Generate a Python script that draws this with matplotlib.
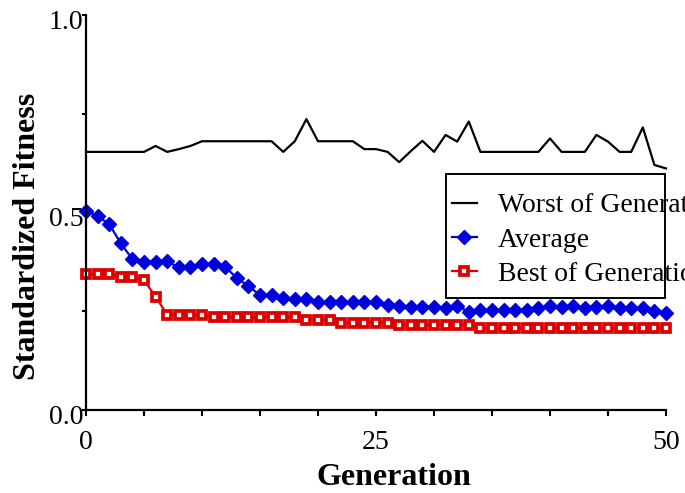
import matplotlib
matplotlib.use("Agg")
import matplotlib.pyplot as plt
from matplotlib.lines import Line2D
from matplotlib.patches import Rectangle
from matplotlib.transforms import ScaledTranslation
import numpy as np

plt.rcParams['font.family'] = ['Liberation Serif', 'DejaVu Serif']

# standardized fitness per generation (0..50)
generations = np.arange(51)
worst = [0.653, 0.653, 0.653, 0.653, 0.653, 0.653, 0.668, 0.653, 0.660, 0.668,
         0.680, 0.680, 0.680, 0.680, 0.680, 0.680, 0.680, 0.653, 0.680, 0.736,
         0.680, 0.680, 0.680, 0.680, 0.660, 0.660, 0.653, 0.627, 0.655, 0.681,
         0.653, 0.696, 0.679, 0.730, 0.653, 0.653, 0.653, 0.653, 0.653, 0.653,
         0.687, 0.653, 0.653, 0.653, 0.696, 0.679, 0.653, 0.653, 0.715, 0.620,
         0.611]
average = [0.504, 0.490, 0.470, 0.421, 0.381, 0.375, 0.375, 0.376, 0.360, 0.360,
           0.370, 0.370, 0.362, 0.333, 0.313, 0.290, 0.290, 0.283, 0.279, 0.279,
           0.272, 0.272, 0.272, 0.272, 0.272, 0.272, 0.265, 0.262, 0.261, 0.261,
           0.261, 0.257, 0.262, 0.248, 0.252, 0.252, 0.252, 0.252, 0.253, 0.257,
           0.262, 0.261, 0.262, 0.257, 0.259, 0.262, 0.257, 0.257, 0.257, 0.250,
           0.245]
best = [0.343, 0.343, 0.343, 0.335, 0.335, 0.328, 0.286, 0.240, 0.240, 0.240,
        0.240, 0.234, 0.234, 0.234, 0.234, 0.234, 0.234, 0.234, 0.234, 0.227,
        0.227, 0.227, 0.220, 0.220, 0.220, 0.220, 0.220, 0.214, 0.214, 0.214,
        0.214, 0.214, 0.214, 0.214, 0.206, 0.206, 0.206, 0.206, 0.206, 0.206,
        0.206, 0.206, 0.206, 0.206, 0.206, 0.206, 0.206, 0.206, 0.206, 0.206,
        0.206]

labels = ['Worst of Generation', 'Average', 'Best of Generation']
blue = '#0000DD'
red = '#DD0000'

fig = plt.figure(figsize=(6.85, 4.93), dpi=100)
ax = fig.add_axes([86 / 685, 1 - 409.5 / 493, 580 / 685, 394.5 / 493])

ax.plot(generations, worst, color='black', lw=1.6, clip_on=False)
ax.plot(generations, average, color=blue, lw=1.6, marker='D', ms=7.5,
        mfc=blue, mec=blue, clip_on=False)
ax.plot(generations, best, color=red, lw=1.6, marker='s', ms=5.2, mew=2.7,
        mfc='white', mec=red, clip_on=False)

ax.set_xlim(0, 50)
ax.set_ylim(0, 1)
for side in ['top', 'right']:
    ax.spines[side].set_visible(False)
for side in ['left', 'bottom']:
    ax.spines[side].set_linewidth(1.6)

ax.set_xticks([0, 25, 50])
ax.set_xticks(np.arange(0, 51, 5), minor=True)
ax.set_yticks([0.0, 0.5, 1.0])
ax.set_yticklabels(['0.0', '0.5', '1.0'])
ax.set_yticks([0.25, 0.75], minor=True)
ax.tick_params(axis='x', which='both', direction='out', length=4, width=1.5,
               labelsize=20, pad=11)
ax.tick_params(axis='y', which='both', direction='out', length=3, width=1.5,
               labelsize=20, pad=-1)
# y labels sit a little below their ticks
shift = ScaledTranslation(0, -0.045, fig.dpi_scale_trans)
for lbl in ax.get_yticklabels():
    lbl.set_transform(lbl.get_transform() + shift)

ax.set_xlabel('Generation', fontsize=23, fontweight='bold')
ax.xaxis.set_label_coords(0.53, -0.135)
ax.set_ylabel('Standardized Fitness', fontsize=23, fontweight='bold')
ax.yaxis.set_label_coords(-0.075, 0.44)

handles = [
    Line2D([], [], color='black', lw=1.6),
    Line2D([], [], color=blue, lw=1.6, marker='D', ms=7.5),
    Line2D([], [], color=red, lw=1.6, marker='s', ms=5.2, mew=2.7, mfc='white', mec=red),
]
fig.legend(handles, labels, loc='upper left', bbox_to_anchor=(452 / 685, 1 - 193 / 493),
           frameon=False, fontsize=20, handlelength=0.9, handletextpad=0.75,
           labelspacing=0.32, borderaxespad=0, borderpad=0)
fig.patches.append(Rectangle((446 / 685, 1 - 298 / 493), 219 / 685, 124 / 493,
                             transform=fig.transFigure, fill=True, fc='white',
                             ec='black', lw=1.4, zorder=0))

fig.savefig('out.png', dpi=100)
